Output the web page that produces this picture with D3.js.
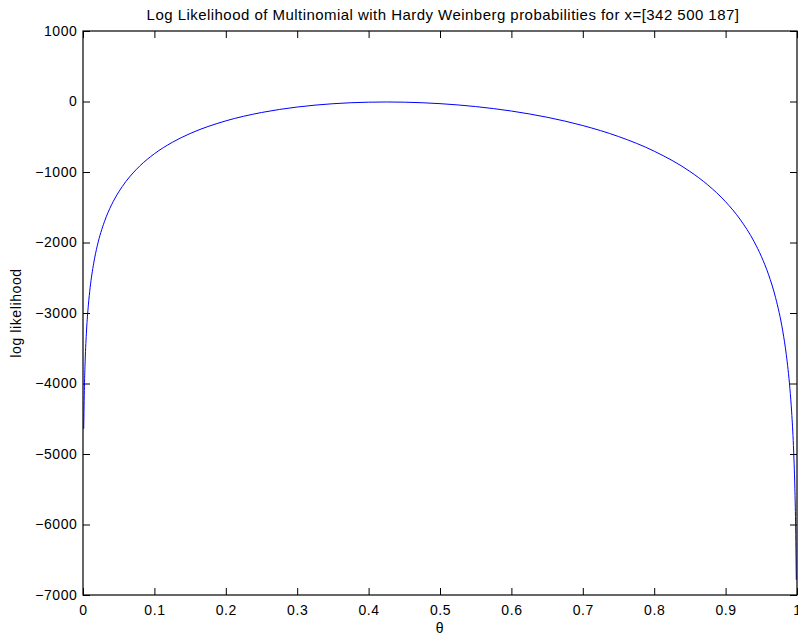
<!DOCTYPE html>
<html>
<head>
<meta charset="utf-8">
<script src="https://cdn.jsdelivr.net/npm/d3@7/dist/d3.min.js"></script>
<style>
  body { margin: 0; background: #fff; }
  svg text { font-family: "Liberation Sans", Arial, Helvetica, sans-serif; font-size: 14px; letter-spacing: 0.6px; fill: #000; }
</style>
</head>
<body>
<div id="chart"></div>
<script>
// theta values and log likelihood
var theta = [0.001, 0.002, 0.003, 0.005, 0.0075, 0.01, 0.015, 0.02, 0.03, 0.04,
             0.05, 0.06, 0.08, 0.10, 0.125, 0.15, 0.2, 0.25, 0.3, 0.35,
             0.4, 0.425, 0.45, 0.5, 0.55, 0.6, 0.65, 0.7, 0.75, 0.8,
             0.85, 0.875, 0.9, 0.92, 0.94, 0.95, 0.96, 0.97, 0.98, 0.985,
             0.99, 0.9925, 0.995, 0.997, 0.998, 0.999];
var loglik = [-4642.5, -4037.9, -3684.7, -3240.6, -2889.2, -2640.8, -2292.4, -2047.0, -1704.8, -1465.6,
              -1283.0, -1136.2, -910.2, -741.2, -579.5, -454.5, -274.8, -156.2, -78.5, -31.6,
              -9.6, -7.0, -9.7, -30.5, -71.9, -135.3, -223.5, -341.2, -496.8, -704.6,
              -992.2, -1182.7, -1422.3, -1667.3, -1989.1, -2195.8, -2450.8, -2782.4, -3253.5, -3589.6,
              -4065.3, -4403.7, -4881.6, -5484.6, -5963.8, -6783.6];
var xTicks = [0, 0.1, 0.2, 0.3, 0.4, 0.5, 0.6, 0.7, 0.8, 0.9, 1];
var yTicks = [1000, 0, -1000, -2000, -3000, -4000, -5000, -6000, -7000];

var W = 798, H = 637;
var axL = 83, axR = 797, axT = 31, axB = 595;

var svg = d3.select('#chart').append('svg')
    .attr('width', W)
    .attr('height', H);

var x = d3.scaleLinear().domain([0, 1]).range([axL, axR]);
var y = d3.scaleLinear().domain([-7000, 1000]).range([axB, axT]);

var fmt = function(d) { return d < 0 ? '\u2212' + Math.abs(d) : '' + d; };

// inside ticks, matlab style
svg.append('g')
    .attr('transform', 'translate(0,' + axB + ')')
    .call(d3.axisBottom(x).tickValues(xTicks).tickSizeInner(-7).tickSizeOuter(0).tickPadding(10).tickFormat(d3.format('')))
    .call(g => g.select('.domain').remove());
svg.append('g')
    .attr('transform', 'translate(0,' + axT + ')')
    .call(d3.axisTop(x).tickValues(xTicks).tickSizeInner(-7).tickSizeOuter(0).tickFormat(''))
    .call(g => g.select('.domain').remove());
svg.append('g')
    .attr('transform', 'translate(' + axL + ',0)')
    .call(d3.axisLeft(y).tickValues(yTicks).tickSizeInner(-7).tickSizeOuter(0).tickPadding(5.5).tickFormat(fmt))
    .call(g => g.select('.domain').remove());
svg.append('g')
    .attr('transform', 'translate(' + axR + ',0)')
    .call(d3.axisRight(y).tickValues(yTicks).tickSizeInner(-7).tickSizeOuter(0).tickFormat(''))
    .call(g => g.select('.domain').remove());

svg.selectAll('.tick line').attr('stroke', '#000');
svg.selectAll('.tick text')
    .attr('font-family', null)
    .attr('font-size', null)
    .attr('fill', '#000');

var line = d3.line()
    .x((d, i) => x(theta[i]))
    .y(d => y(d))
    .curve(d3.curveMonotoneX);

svg.append('path')
    .datum(loglik)
    .attr('d', line)
    .attr('fill', 'none')
    .attr('stroke', '#0000ff')
    .attr('stroke-width', 1);

svg.append('rect')
    .attr('x', axL)
    .attr('y', axT)
    .attr('width', axR - axL)
    .attr('height', axB - axT)
    .attr('fill', 'none')
    .attr('stroke', '#000')
    .attr('stroke-width', 1.2);

svg.append('text')
    .attr('x', (axL + axR) / 2 + 3)
    .attr('y', 20)
    .attr('text-anchor', 'middle')
    .style('font-size', '15px')
    .style('letter-spacing', '0.46px')
    .text('Log Likelihood of Multinomial with Hardy Weinberg probabilities for x=[342 500 187]');

svg.append('text')
    .attr('x', (axL + axR) / 2)
    .attr('y', 633)
    .attr('text-anchor', 'middle')
    .text('\u03b8');

svg.append('text')
    .attr('transform', 'translate(21,' + (axT + axB) / 2 + ') rotate(-90)')
    .attr('text-anchor', 'middle')
    .text('log likelihood');
</script>
</body>
</html>
